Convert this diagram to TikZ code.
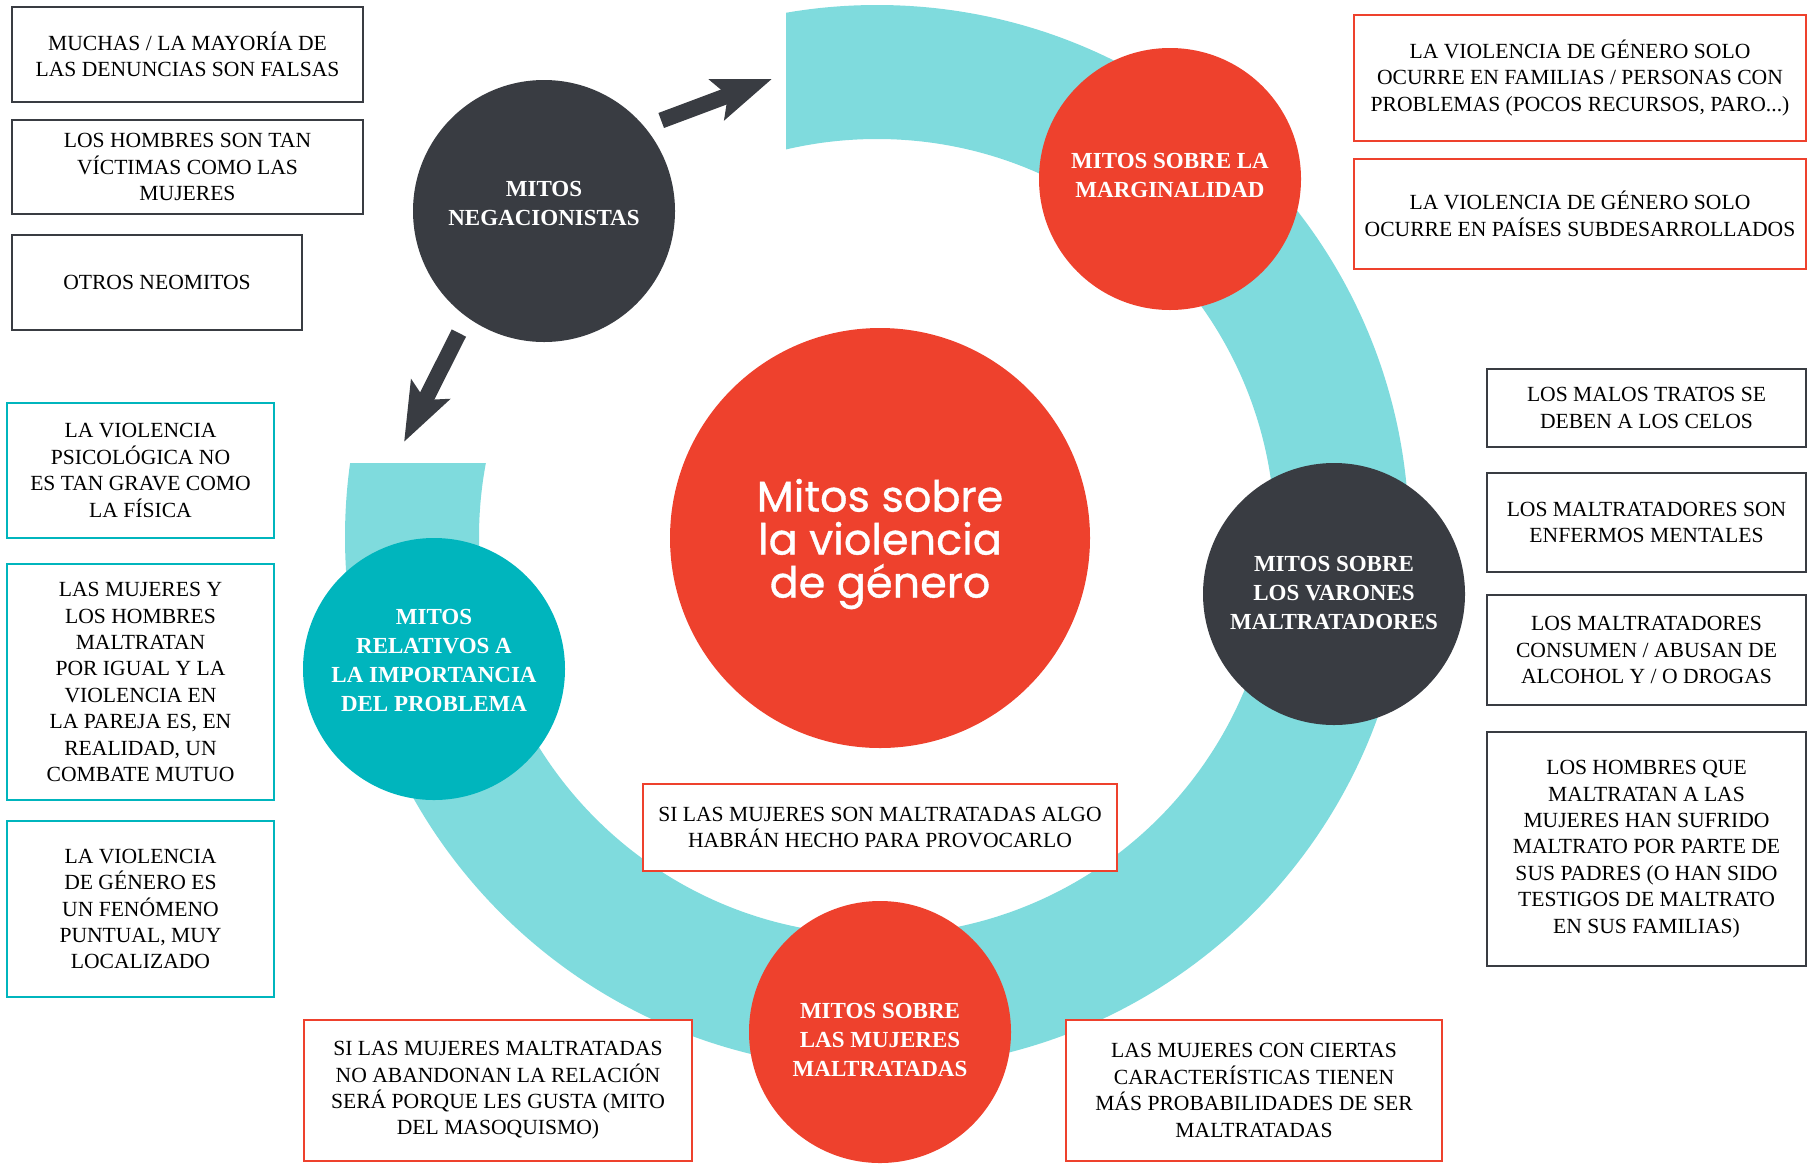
\documentclass[tikz,border=0pt]{standalone}
\usepackage{fontspec}
\setmainfont{Liberation Serif}
\newfontfamily\fuentecentro{Poppins}[FakeBold=0.8]
\usetikzlibrary{arrows.meta}
\definecolor{rojo}{RGB}{238,65,45}
\definecolor{gris}{RGB}{57,60,66}
\definecolor{turquesa}{RGB}{0,181,189}
\definecolor{celeste}{RGB}{127,219,221}

\begin{document}
\begin{tikzpicture}[x=0.5pt, y=-0.5pt]
	\tikzset{mito/.style={circle, fill=#1, minimum size=131pt, inner sep=0pt, outer sep=0pt},
		rotulo/.style={text=white, align=center, inner sep=0pt, font=\bfseries\fontsize{11.5}{14.5}\selectfont},
		caja/.style={rectangle, draw=#1, line width=1.3pt, fill=white, align=center, inner sep=0pt, font=\fontsize{10.8}{13.2}\selectfont},
		flecha/.style={draw=gris, line width=8pt, -{Stealth[length=29pt, width=21pt, inset=5.5pt]}, shorten <=9pt}};
	\useasboundingbox (0,0) rectangle (1808,1163);

	% anillo abierto
	\coordinate (c) at (877,537);
	\begin{scope}
		\clip (0,463) -- (786,463) -- (786,0) -- (1808,0) -- (1808,1163) -- (0,1163) -- cycle;
		\fill[celeste, even odd rule] (c) circle[radius=266pt] (c) circle[radius=199pt];
	\end{scope}

	% circulos
	\node[mito=rojo, minimum size=210pt] (centro) at (880,538) {};
	\node[text=white, align=center, inner sep=0pt, font=\fuentecentro\fontsize{21.5}{21.5}\selectfont] (titulo) at ([yshift=-3pt]centro) {Mitos sobre\\la violencia\\de género};
	\node[mito=gris, label={[rotulo, yshift=4pt]center:{MITOS\\NEGACIONISTAS}}] (neg) at (544,211) {};
	\node[mito=rojo, label={[rotulo, yshift=1.7pt]center:{MITOS SOBRE LA\\MARGINALIDAD}}] (marg) at (1170,179) {};
	\node[mito=gris, label={[rotulo, yshift=0.6pt]center:{MITOS SOBRE\\LOS VARONES\\MALTRATADORES}}] (var) at (1334,594) {};
	\node[mito=rojo, label={[rotulo, yshift=-4pt]center:{MITOS SOBRE\\LAS MUJERES\\MALTRATADAS}}] (muj) at (880,1032) {};
	\node[mito=turquesa, label={[rotulo, yshift=4.3pt]center:{MITOS\\RELATIVOS A\\LA IMPORTANCIA\\DEL PROBLEMA}}] (rel) at (434,669) {};

	% flechas
	\coordinate (hueco1) at (772,79);
	\coordinate (hueco2) at (404,442);
	\draw[flecha] (neg.40) -- (hueco1);
	\draw[flecha] (neg.234) -- (hueco2);

	% cajas
	\node[caja=gris, minimum width=175.5pt, minimum height=47.5pt] (g1) at (187.5,54.5) {MUCHAS / LA MAYORÍA DE\\LAS DENUNCIAS SON FALSAS};
	\node[caja=gris, minimum width=175.5pt, minimum height=47pt] (g2) at (187.5,167) {LOS HOMBRES SON TAN\\VÍCTIMAS COMO LAS\\MUJERES};
	\node[caja=gris, minimum width=145pt, minimum height=47.5pt] (g3) at (157,282.5) {OTROS NEOMITOS};

	\node[caja=turquesa, minimum width=133.5pt, minimum height=67.5pt] (t1) at (140.5,470.5) {LA VIOLENCIA\\PSICOLÓGICA NO\\ES TAN GRAVE COMO\\LA FÍSICA};
	\node[caja=turquesa, minimum width=133.5pt, minimum height=118pt] (t2) at (140.5,682) {LAS MUJERES Y\\LOS HOMBRES\\MALTRATAN\\POR IGUAL Y LA\\VIOLENCIA EN\\LA PAREJA ES, EN\\REALIDAD, UN\\COMBATE MUTUO};
	\node[caja=turquesa, minimum width=133.5pt, minimum height=88pt] (t3) at (140.5,909) {LA VIOLENCIA\\DE GÉNERO ES\\UN FENÓMENO\\PUNTUAL, MUY\\LOCALIZADO};

	\node[caja=rojo, minimum width=226pt, minimum height=63pt] (r1) at (1580,78) {LA VIOLENCIA DE GÉNERO SOLO\\OCURRE EN FAMILIAS / PERSONAS CON\\PROBLEMAS (POCOS RECURSOS, PARO...)};
	\node[caja=rojo, minimum width=226pt, minimum height=55pt] (r2) at (1580,214) {LA VIOLENCIA DE GÉNERO SOLO\\OCURRE EN PAÍSES SUBDESARROLLADOS};

	\node[caja=gris, minimum width=159.5pt, minimum height=39pt] (d1) at (1646.5,408) {LOS MALOS TRATOS SE\\DEBEN A LOS CELOS};
	\node[caja=gris, minimum width=159.5pt, minimum height=49.5pt] (d2) at (1646.5,522.5) {LOS MALTRATADORES SON\\ENFERMOS MENTALES};
	\node[caja=gris, minimum width=159.5pt, minimum height=55pt] (d3) at (1646.5,650) {LOS MALTRATADORES\\CONSUMEN / ABUSAN DE\\ALCOHOL Y / O DROGAS};
	\node[caja=gris, minimum width=159.5pt, minimum height=117pt] (d4) at (1646.5,849) {LOS HOMBRES QUE\\MALTRATAN A LAS\\MUJERES HAN SUFRIDO\\MALTRATO POR PARTE DE\\SUS PADRES (O HAN SIDO\\TESTIGOS DE MALTRATO\\EN SUS FAMILIAS)};

	\node[caja=rojo, minimum width=237pt, minimum height=43.5pt] (b1) at (880,827.5) {SI LAS MUJERES SON MALTRATADAS ALGO\\HABRÁN HECHO PARA PROVOCARLO};
	\node[caja=rojo, minimum width=194pt, minimum height=70.5pt] (b2) at (498,1090.5) {SI LAS MUJERES MALTRATADAS\\NO ABANDONAN LA RELACIÓN\\SERÁ PORQUE LES GUSTA (MITO\\DEL MASOQUISMO)};
	\node[caja=rojo, minimum width=188pt, minimum height=70.5pt] (b3) at (1254,1090.5) {LAS MUJERES CON CIERTAS\\CARACTERÍSTICAS TIENEN\\MÁS PROBABILIDADES DE SER\\MALTRATADAS};
\end{tikzpicture}
\end{document}
